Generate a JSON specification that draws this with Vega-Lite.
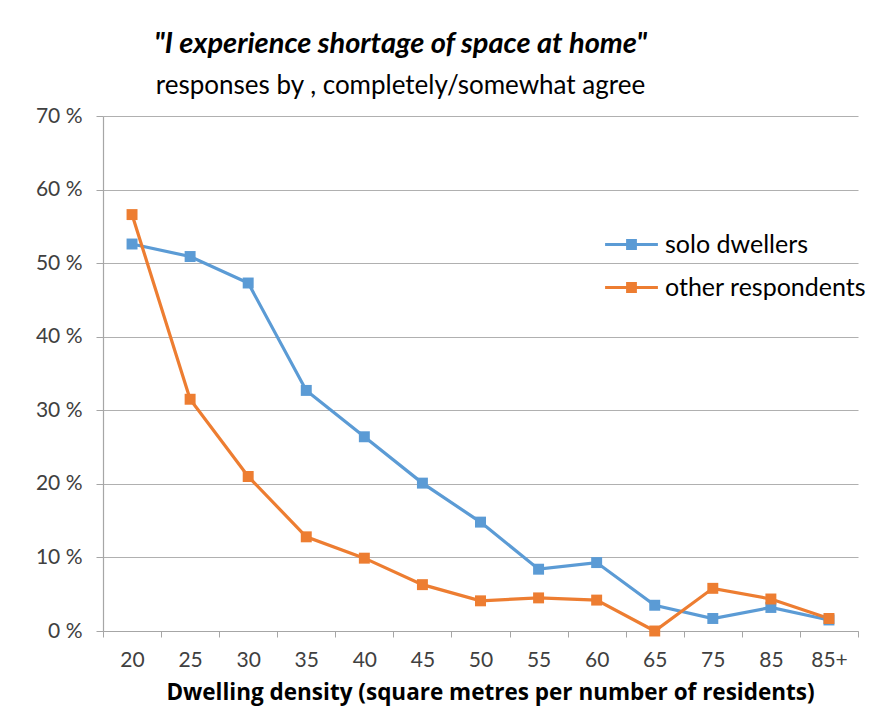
{
  "$schema": "https://vega.github.io/schema/vega-lite/v6.json",
  "width": 755,
  "height": 515,
  "autosize": {"type": "none"},
  "padding": {"left": 103, "top": 116, "right": 20, "bottom": 81},
  "background": "white",
  "title": {
    "text": "\"I experience shortage of space at home\"",
    "subtitle": "responses by , completely/somewhat agree",
    "anchor": "middle",
    "frame": "group",
    "dx": -80,
    "offset": 6,
    "font": "Lato",
    "fontSize": 29,
    "fontStyle": "italic",
    "fontWeight": "bold",
    "color": "#000000",
    "subtitleFont": "Lato",
    "subtitleFontSize": 26,
    "subtitleFontWeight": "normal",
    "subtitleColor": "#000000",
    "subtitlePadding": 14
  },
  "data": {
    "values": [
      {"density": "20", "group": "solo dwellers", "pct": 52.6},
      {"density": "25", "group": "solo dwellers", "pct": 50.9},
      {"density": "30", "group": "solo dwellers", "pct": 47.3},
      {"density": "35", "group": "solo dwellers", "pct": 32.7},
      {"density": "40", "group": "solo dwellers", "pct": 26.4},
      {"density": "45", "group": "solo dwellers", "pct": 20.1},
      {"density": "50", "group": "solo dwellers", "pct": 14.8},
      {"density": "55", "group": "solo dwellers", "pct": 8.4},
      {"density": "60", "group": "solo dwellers", "pct": 9.3},
      {"density": "65", "group": "solo dwellers", "pct": 3.5},
      {"density": "75", "group": "solo dwellers", "pct": 1.7},
      {"density": "85", "group": "solo dwellers", "pct": 3.2},
      {"density": "85+", "group": "solo dwellers", "pct": 1.5},
      {"density": "20", "group": "other respondents", "pct": 56.6},
      {"density": "25", "group": "other respondents", "pct": 31.5},
      {"density": "30", "group": "other respondents", "pct": 21.0},
      {"density": "35", "group": "other respondents", "pct": 12.8},
      {"density": "40", "group": "other respondents", "pct": 9.9},
      {"density": "45", "group": "other respondents", "pct": 6.3},
      {"density": "50", "group": "other respondents", "pct": 4.1},
      {"density": "55", "group": "other respondents", "pct": 4.5},
      {"density": "60", "group": "other respondents", "pct": 4.2},
      {"density": "65", "group": "other respondents", "pct": 0.0},
      {"density": "75", "group": "other respondents", "pct": 5.8},
      {"density": "85", "group": "other respondents", "pct": 4.35},
      {"density": "85+", "group": "other respondents", "pct": 1.7}
    ]
  },
  "encoding": {
    "x": {
      "field": "density",
      "type": "nominal",
      "sort": null,
      "bandPosition": 0.5,
      "scale": {"type": "band", "paddingInner": 0, "paddingOuter": 0},
      "axis": {
        "title": "Dwelling density (square metres per number of residents)",
        "titleFont": "Open Sans",
        "titleFontSize": 22.5,
        "titleFontWeight": "bold",
        "titleColor": "#000000",
        "titlePadding": 11,
        "titleX": 387,
        "labelFont": "Lato",
        "labelFontSize": 21,
        "labelColor": "#404040",
        "labelAngle": 0,
        "labelPadding": 12,
        "tickBand": "extent",
        "tickSize": 6,
        "tickColor": "#a6a6a6",
        "domainColor": "#a6a6a6",
        "domainWidth": 1.2,
        "grid": false
      }
    },
    "y": {
      "field": "pct",
      "type": "quantitative",
      "scale": {"domain": [0, 70], "nice": false},
      "axis": {
        "title": null,
        "values": [0, 10, 20, 30, 40, 50, 60, 70],
        "labelExpr": "datum.value + ' %'",
        "labelFont": "Lato",
        "labelFontSize": 21,
        "labelColor": "#404040",
        "labelPadding": 14,
        "tickSize": 7,
        "tickColor": "#a6a6a6",
        "domainColor": "#a6a6a6",
        "domainWidth": 1.2,
        "grid": true,
        "gridColor": "#b0b0b0",
        "gridWidth": 1.2
      }
    },
    "color": {
      "field": "group",
      "type": "nominal",
      "sort": ["solo dwellers", "other respondents"],
      "scale": {"domain": ["solo dwellers", "other respondents"], "range": ["#5B9BD5", "#ED7D31"]},
      "legend": {
        "title": null,
        "orient": "none",
        "legendX": 516,
        "legendY": 116,
        "padding": 0,
        "rowPadding": 17,
        "labelFont": "Lato",
        "labelFontSize": 25,
        "labelColor": "#000000",
        "labelOffset": 21,
        "labelLimit": 0,
        "symbolSize": 576,
        "symbolType": "M-2.2,-0.12H2.2V0.12H-2.2Z M-0.45,-0.45H0.45V0.45H-0.45Z",
        "symbolStrokeWidth": 0,
        "encode": {
          "symbols": {"update": {"fill": {"scale": "color", "field": "value"}, "stroke": {"value": "transparent"}}}
        }
      }
    }
  },
  "layer": [
    {"mark": {"type": "line", "strokeWidth": 3.2}},
    {"mark": {"type": "point", "shape": "square", "filled": true, "size": 120, "opacity": 1}}
  ],
  "config": {"view": {"stroke": null}}
}
